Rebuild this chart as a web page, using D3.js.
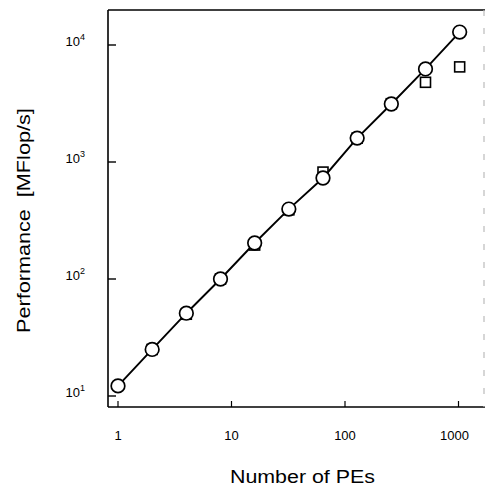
<!DOCTYPE html>
<html><head><meta charset="utf-8">
<script src="https://cdn.jsdelivr.net/npm/d3@7"></script>
<style>body{margin:0;background:#fff}svg{display:block}</style>
</head><body>
<svg id="c" width="485" height="490"></svg>
<script>
const pes = [1, 2, 4, 8, 16, 32, 64, 128, 256, 512, 1024];
const circleVals = [12.2, 25, 51, 100, 203, 396, 730, 1600, 3130, 6240, 12900];
const squarePEs = [2, 4, 8, 16, 32, 64, 128, 256, 512, 1024];
const squareVals = [25, 50, 100, 195, 390, 820, 1600, 3150, 4800, 6500];
const xTicks = [1, 10, 100, 1000];
const xTickLabels = ["1", "10", "100", "1000"];
const yTicks = [10, 100, 1000, 10000];
const yTickExp = ["1", "2", "3", "4"];

(function () {
const svg = d3.select("#c");
const x = d3.scaleLog().domain([1, 1000]).range([118, 458.5]);
const y = d3.scaleLog().domain([10, 10000]).range([396, 45]);
const pl = 108, pr = 484, pt = 10, pb = 407;
const font = "'Liberation Sans', Arial, sans-serif";

// frame
svg.append("line").attr("x1", pl).attr("x2", pl).attr("y1", pt).attr("y2", pb)
  .attr("stroke", "#000").attr("stroke-width", 1.6);
svg.append("line").attr("x1", pl).attr("x2", pr + 1).attr("y1", pb).attr("y2", pb)
  .attr("stroke", "#000").attr("stroke-width", 1.6);
svg.append("line").attr("x1", pl).attr("x2", pr + 1).attr("y1", pt).attr("y2", pt)
  .attr("stroke", "#000").attr("stroke-width", 1.4);
svg.append("line").attr("x1", pr).attr("x2", pr).attr("y1", pt).attr("y2", pb)
  .attr("stroke", "#bbb").attr("stroke-width", 1.2).attr("stroke-dasharray", "6,12");

// y ticks
svg.selectAll(".yt").data(yTicks).join("line")
  .attr("x1", pl).attr("x2", pl + 8)
  .attr("y1", d => y(d)).attr("y2", d => y(d))
  .attr("stroke", "#000").attr("stroke-width", 1.4);
const yl = svg.selectAll(".yl").data(yTicks).join("text")
  .attr("x", 85).attr("y", d => y(d) + 0.5)
  .attr("text-anchor", "end")
  .attr("font-family", font).attr("font-size", 13).attr("fill", "#000");
yl.append("tspan").text("10");
yl.append("tspan").attr("dy", -6).attr("font-size", 9).text((d, i) => yTickExp[i]);

// x ticks
svg.selectAll(".xt").data(xTicks).join("line")
  .attr("x1", d => x(d)).attr("x2", d => x(d))
  .attr("y1", pb).attr("y2", pb - 6)
  .attr("stroke", "#000").attr("stroke-width", 1.2);
svg.selectAll(".xl").data(xTicks).join("text")
  .attr("x", d => x(d) - (d >= 1000 ? 4 : 0)).attr("y", 440)
  .attr("text-anchor", "middle")
  .attr("font-family", font).attr("font-size", 13).attr("fill", "#000")
  .text((d, i) => xTickLabels[i]);

// titles (horizontally stretched to match the wide original lettering)
function stretched(tx, ty, rot, txt, target) {
  const g = svg.append("g");
  const t = g.append("text").attr("font-family", font).attr("font-size", 18)
    .attr("xml:space", "preserve").text(txt);
  const w = t.node().getComputedTextLength();
  const s = target / w;
  g.attr("transform", `translate(${tx},${ty}) rotate(${rot}) scale(${s},1)`);
}
stretched(230, 483, 0, "Number of PEs", 145);
stretched(30, 333, -90, "Performance  [MFlop/s]", 225);

// squares
svg.selectAll(".sq").data(squarePEs).join("rect")
  .attr("x", d => x(d) - 5).attr("y", (d, i) => y(squareVals[i]) - 5)
  .attr("width", 10).attr("height", 10)
  .attr("fill", "#fff").attr("stroke", "#000").attr("stroke-width", 1.6);

// line
const line = d3.line().x((d, i) => x(pes[i])).y(d => y(d));
svg.append("path").attr("d", line(circleVals)).attr("fill", "none")
  .attr("stroke", "#000").attr("stroke-width", 1.9);

// circles
svg.selectAll(".ci").data(circleVals).join("circle")
  .attr("cx", (d, i) => x(pes[i])).attr("cy", d => y(d)).attr("r", 6.8)
  .attr("fill", "#fff").attr("stroke", "#000").attr("stroke-width", 1.7);
})();
</script>
</body></html>
